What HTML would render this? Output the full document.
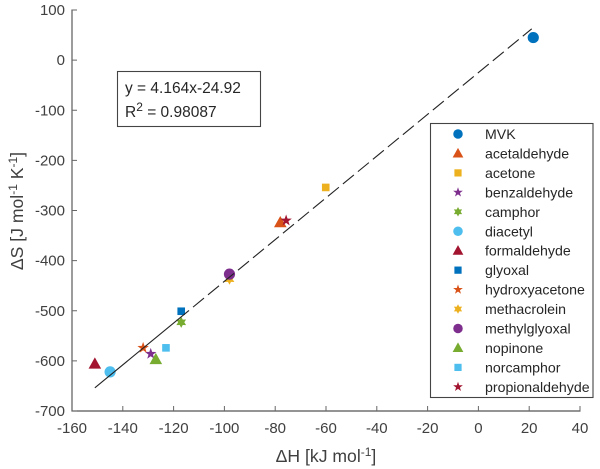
<!DOCTYPE html>
<html>
<head>
<meta charset="utf-8">
<style>
html,body{margin:0;padding:0;background:#fff;}
svg{display:block;font-family:"Liberation Sans",Arial,sans-serif;filter:blur(0.3px);}
text{fill:#404040;}
</style>
</head>
<body>
<svg id="chart" width="600" height="469" viewBox="0 0 600 469" xmlns="http://www.w3.org/2000/svg">
  <g id="marks"></g>
  <g id="fit"></g>
  <g id="axes"></g>
  <text x="326" y="462" font-size="17.6" text-anchor="middle">ΔH [kJ mol<tspan dy="-6" font-size="12">-1</tspan><tspan dy="6">]</tspan></text>
  <text transform="translate(23,211) rotate(-90)" font-size="17.6" text-anchor="middle">ΔS [J mol<tspan dy="-6" font-size="12">-1</tspan><tspan dy="6"> K</tspan><tspan dy="-6" font-size="12">-1</tspan><tspan dy="6">]</tspan></text>
  <g>
    <rect x="117.5" y="71.5" width="143" height="55" fill="#fff" stroke="#444" stroke-width="1.1"/>
    <text x="125" y="93" font-size="15.5" style="fill:#262626">y = 4.164x-24.92</text>
    <text x="125" y="117" font-size="15.5" style="fill:#262626">R<tspan dy="-6" font-size="12">2</tspan><tspan dy="6"> = 0.98087</tspan></text>
  </g>
  <g id="legend"></g>
</svg>
<script>
var categories = ['MVK','acetaldehyde','acetone','benzaldehyde','camphor','diacetyl','formaldehyde','glyoxal','hydroxyacetone','methacrolein','methylglyoxal','nopinone','norcamphor','propionaldehyde'];
var deltaH = [21.6,-78,-60.1,-129,-117,-145,-151,-117,-132,-98,-98,-127,-123,-75.7];
var deltaS = [45,-324,-254,-586,-523,-622,-606,-501,-574,-437,-427,-597,-574,-320];
var markerShapes = ['circle','triangle','square','star','hexagram','circle','triangle','square','star','hexagram','circle','triangle','square','star'];
var markerColors = ['#0072BD','#D95319','#EDB120','#7E2F8E','#77AC30','#4DBEEE','#A2142F','#0072BD','#D95319','#EDB120','#7E2F8E','#77AC30','#4DBEEE','#A2142F'];
var xTicks = [-160,-140,-120,-100,-80,-60,-40,-20,0,20,40];
var yTicks = [100,0,-100,-200,-300,-400,-500,-600,-700];
var fitSlope = 4.164;
var fitIntercept = -24.92;
var fitStartX = -151;
var fitSolidEndX = -114;
var fitEndX = 21;

var NS = 'http://www.w3.org/2000/svg';
function sx(v){ return 72 + (v + 160) * (580 - 72) / 200; }
function sy(v){ return 10 + (100 - v) * (411 - 10) / 800; }
function make(tag, parent){ var el = document.createElementNS(NS, tag); parent.appendChild(el); return el; }
function starPoints(cx, cy, n, ro, ri){
  var p = [];
  for (var i = 0; i < n * 2; i++){
    var r = i % 2 ? ri : ro, a = -Math.PI / 2 + i * Math.PI / n;
    p.push((cx + r * Math.cos(a)).toFixed(2) + ',' + (cy + r * Math.sin(a)).toFixed(2));
  }
  return p.join(' ');
}
function drawMarker(parent, shape, color, cx, cy, k, name){
  var el;
  if (shape === 'circle'){
    el = make('circle', parent);
    el.setAttribute('cx', cx); el.setAttribute('cy', cy); el.setAttribute('r', 5.6 * k);
  } else if (shape === 'square'){
    el = make('rect', parent);
    el.setAttribute('x', cx - 3.8 * k); el.setAttribute('y', cy - 3.8 * k);
    el.setAttribute('width', 7.6 * k); el.setAttribute('height', 7.6 * k);
  } else if (shape === 'triangle'){
    el = make('polygon', parent);
    el.setAttribute('points', cx + ',' + (cy - 6.5 * k) + ' ' + (cx + 6.3 * k) + ',' + (cy + 4.7 * k) + ' ' + (cx - 6.3 * k) + ',' + (cy + 4.7 * k));
  } else if (shape === 'star'){
    el = make('polygon', parent);
    el.setAttribute('points', starPoints(cx, cy, 5, 6 * k, 2.4 * k));
  } else {
    el = make('polygon', parent);
    el.setAttribute('points', starPoints(cx, cy, 6, 5.6 * k, 3.1 * k));
  }
  el.setAttribute('fill', color);
  
  
  return el;
}

var marks = document.getElementById('marks');
categories.forEach(function(c, i){
  drawMarker(marks, markerShapes[i], markerColors[i], sx(deltaH[i]), sy(deltaS[i]), 1, 'point-' + c);
});

var fit = document.getElementById('fit');
function fitY(x){ return fitSlope * x + fitIntercept; }
var solid = make('line', fit);


solid.setAttribute('x1', sx(fitStartX)); solid.setAttribute('y1', sy(fitY(fitStartX)));
solid.setAttribute('x2', sx(fitSolidEndX)); solid.setAttribute('y2', sy(fitY(fitSolidEndX)));
solid.setAttribute('stroke', '#222'); solid.setAttribute('stroke-width', '1.1');
var dashed = make('line', fit);


dashed.setAttribute('x1', sx(fitEndX)); dashed.setAttribute('y1', sy(fitY(fitEndX)));
dashed.setAttribute('x2', sx(fitSolidEndX)); dashed.setAttribute('y2', sy(fitY(fitSolidEndX)));
dashed.setAttribute('stroke', '#222'); dashed.setAttribute('stroke-width', '1.1');
dashed.setAttribute('stroke-dasharray', '14.2 5.2');
dashed.setAttribute('stroke-dashoffset', '2.6');

var axes = document.getElementById('axes');
var xAxis = make('line', axes);


xAxis.setAttribute('x1', 71.5); xAxis.setAttribute('x2', sx(40) + 0.5); xAxis.setAttribute('y1', 411); xAxis.setAttribute('y2', 411);
xAxis.setAttribute('stroke', '#555'); xAxis.setAttribute('stroke-width', '1.3');
var yAxis = make('line', axes);


yAxis.setAttribute('x1', 72); yAxis.setAttribute('x2', 72); yAxis.setAttribute('y1', 9.5); yAxis.setAttribute('y2', 411.5);
yAxis.setAttribute('stroke', '#666'); yAxis.setAttribute('stroke-width', '1.3');

xTicks.forEach(function(t){
  var tick = make('line', axes);
  
  
  tick.setAttribute('x1', sx(t)); tick.setAttribute('x2', sx(t)); tick.setAttribute('y1', 411); tick.setAttribute('y2', 406);
  tick.setAttribute('stroke', '#666'); tick.setAttribute('stroke-width', '1');
  var label = make('text', axes);
  
  
  label.setAttribute('x', sx(t)); label.setAttribute('y', 433);
  label.setAttribute('font-size', '15'); label.setAttribute('text-anchor', 'middle');
  label.textContent = t;
});
yTicks.forEach(function(t){
  var tick = make('line', axes);
  
  
  tick.setAttribute('x1', 72); tick.setAttribute('x2', 77); tick.setAttribute('y1', sy(t)); tick.setAttribute('y2', sy(t));
  tick.setAttribute('stroke', '#666'); tick.setAttribute('stroke-width', '1');
  var label = make('text', axes);
  
  
  label.setAttribute('x', 65); label.setAttribute('y', sy(t) + 5);
  label.setAttribute('font-size', '15'); label.setAttribute('text-anchor', 'end');
  label.textContent = t;
});

var legend = document.getElementById('legend');
var box = make('rect', legend);


box.setAttribute('x', 430.5); box.setAttribute('y', 123.5); box.setAttribute('width', 162.5); box.setAttribute('height', 274);
box.setAttribute('fill', '#fff'); box.setAttribute('stroke', '#444'); box.setAttribute('stroke-width', '1.1');
categories.forEach(function(c, i){
  var y = 134 + i * 19.45;
  drawMarker(legend, markerShapes[i], markerColors[i], 458, y, markerShapes[i] === 'square' ? 0.95 : 0.85, 'legend-marker-' + c);
  var label = make('text', legend);
  
  
  label.setAttribute('x', 485); label.setAttribute('y', y + 5);
  label.setAttribute('font-size', '14.15');
  label.style.fill = '#262626';
  label.textContent = c;
});
</script>
</body>
</html>
